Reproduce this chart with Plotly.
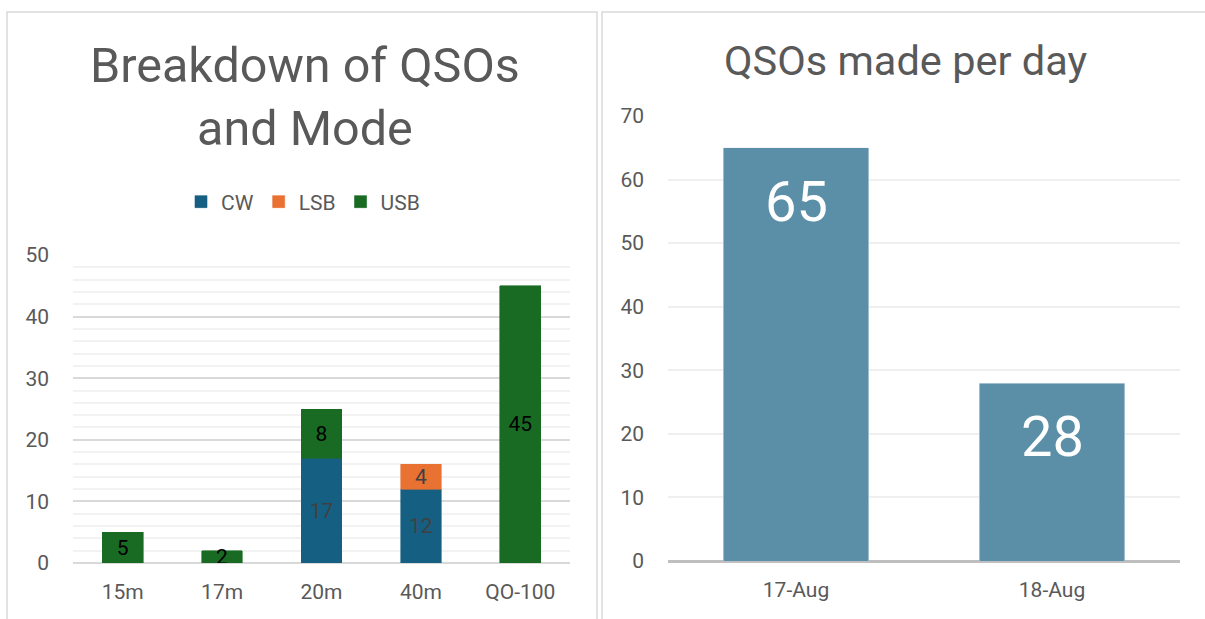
import plotly.graph_objects as go

# ---- data ----
bands = ["15m", "17m", "20m", "40m", "QO-100"]
cw = [None, None, 17, 12, None]
lsb = [None, None, None, 4, None]
usb = [5, 2, 8, None, 45]

days = ["17-Aug", "18-Aug"]
qsos_per_day = [65, 28]

W, H = 1205, 619
FONT = "Roboto"
GREY = "#595959"

def px_x(p):
    return p / W

def px_y(p):
    return 1 - p / H

def lbl(vals):
    return [str(v) if v else "" for v in vals]

fig = go.Figure()

common = dict(textposition="inside", insidetextanchor="middle", textangle=0,
              constraintext="none", xaxis="x", yaxis="y", width=0.41)

fig.add_trace(go.Bar(
    x=bands, y=cw, name="CW", marker=dict(color="#156082", line=dict(width=0.6, color="#156082")),
    text=lbl(cw), textfont=dict(color="#404040", size=21, family=FONT), **common,
))
fig.add_trace(go.Bar(
    x=bands, y=lsb, name="LSB", marker=dict(color="#E97132", line=dict(width=0.6, color="#E97132")),
    text=lbl(lsb), textfont=dict(color="#404040", size=21, family=FONT), **common,
))
fig.add_trace(go.Bar(
    x=bands, y=usb, name="USB", marker=dict(color="#196B24", line=dict(width=0.6, color="#196B24")),
    text=lbl(usb), textfont=dict(color="#000000", size=21, family=FONT), **common,
))

fig.add_trace(go.Bar(
    x=days, y=qsos_per_day, marker_color="#5B8FA8", showlegend=False,
    xaxis="x2", yaxis="y2", width=0.57,
))

annotations = []
for d, v in zip(days, qsos_per_day):
    annotations.append(dict(
        x=d, y=v, xref="x2", yref="y2", text=str(v), showarrow=False,
        yanchor="top", yshift=-19,
        font=dict(size=56, color="white", family=FONT),
    ))

annotations.append(dict(
    x=px_x(305), y=px_y(97), xref="paper", yref="paper",
    text="Breakdown of QSOs<br>and Mode", showarrow=False,
    xanchor="center", yanchor="middle",
    font=dict(size=48.5, color=GREY, family=FONT),
))
annotations.append(dict(
    x=px_x(905), y=px_y(60), xref="paper", yref="paper",
    text="QSOs made per day", showarrow=False,
    xanchor="center", yanchor="middle",
    font=dict(size=41.5, color=GREY, family=FONT),
))

shapes = [
    dict(type="rect", xref="paper", yref="paper",
         x0=px_x(7), x1=px_x(597), y0=px_y(630), y1=px_y(12),
         line=dict(color="#d9d9d9", width=1.5)),
    dict(type="rect", xref="paper", yref="paper",
         x0=px_x(602), x1=px_x(1215), y0=px_y(630), y1=px_y(12),
         line=dict(color="#d9d9d9", width=1.5)),
]

fig.update_layout(
    width=W, height=H,
    margin=dict(l=0, r=0, t=0, b=0, autoexpand=False),
    paper_bgcolor="white", plot_bgcolor="white",
    barmode="stack",
    font=dict(family=FONT, color=GREY, size=21),
    showlegend=True,
    legend=dict(
        orientation="h", x=px_x(303), xanchor="center",
        y=px_y(202), yanchor="middle",
        font=dict(size=21, color=GREY, family=FONT),
        itemwidth=30, traceorder="normal",
    ),
    xaxis=dict(
        domain=[px_x(73), px_x(570)], anchor="y",
        showgrid=False, showline=False, ticks="",
        tickfont=dict(size=21, color=GREY), ticklabelstandoff=14,
    ),
    yaxis=dict(
        domain=[px_y(563), px_y(255)], anchor="x",
        range=[0, 50], dtick=10, showgrid=True, gridcolor="#d9d9d9", gridwidth=1.5,
        zeroline=True, zerolinecolor="#d9d9d9", zerolinewidth=1.5,
        minor=dict(dtick=2, showgrid=True, gridcolor="#f2f2f2", gridwidth=1.5),
        showline=False, ticks="",
        tickfont=dict(size=21, color=GREY), ticklabelstandoff=23,
    ),
    xaxis2=dict(
        domain=[px_x(668), px_x(1180)], anchor="y2",
        showgrid=False, showline=False, ticks="",
        tickfont=dict(size=21, color=GREY), ticklabelstandoff=14,
    ),
    yaxis2=dict(
        domain=[px_y(561), px_y(116)], anchor="x2",
        range=[0, 70], dtick=10, showgrid=True, gridcolor="#efefef", gridwidth=1.5,
        zeroline=True, zerolinecolor="#bfbfbf", zerolinewidth=2.5,
        showline=False, ticks="",
        tickfont=dict(size=21, color=GREY), ticklabelstandoff=23,
    ),
    annotations=annotations,
    shapes=shapes,
)

fig.write_html("out.html", config={"displayModeBar": False},
               post_script="document.body.style.margin='0';")
